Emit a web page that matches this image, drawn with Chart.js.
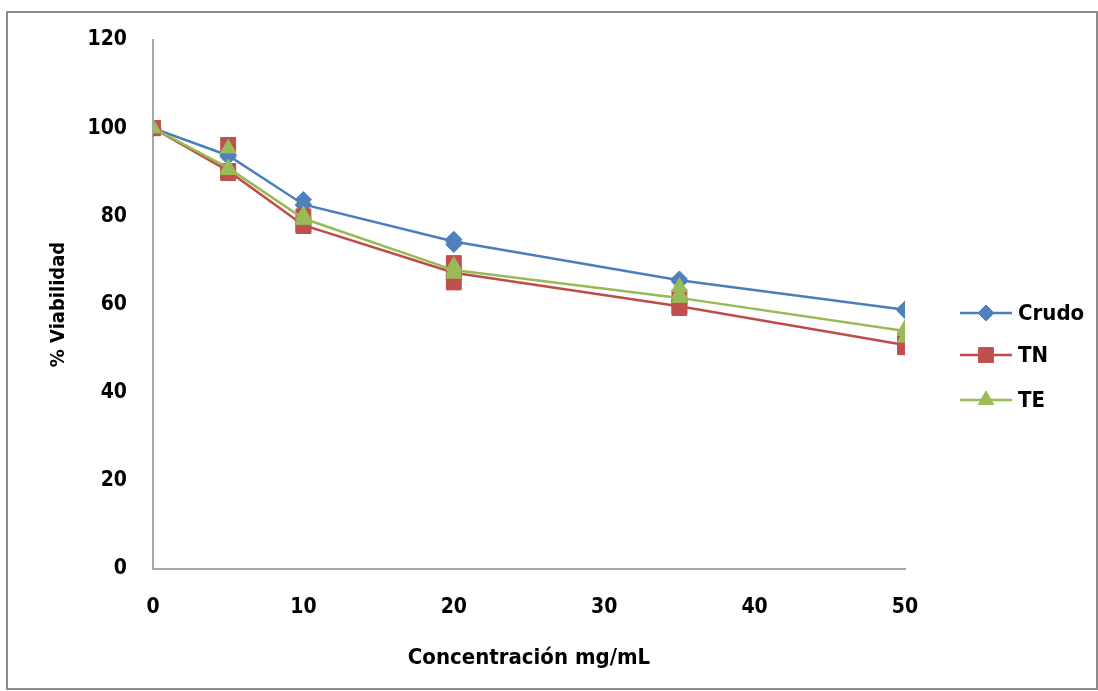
<!DOCTYPE html>
<html>
<head>
<meta charset="utf-8">
<script src="https://cdn.jsdelivr.net/npm/chart.js@4"></script>
<style>
  html, body { margin: 0; padding: 0; background: #fff; }
  #wrap { width: 1098px; height: 691px; position: relative; }
</style>
</head>
<body>
<div id="wrap"><canvas id="myChart" width="1098" height="691"></canvas></div>
<script>
var concentracion = [0, 5, 10, 20, 35, 50];

var crudo = [100, 93.8, 82.7, 74.3, 65.5, 58.8];
var tn    = [100, 90.3, 78.0, 67.2, 59.6, 50.8];
var te    = [100, 91.0, 79.5, 67.8, 61.5, 54.0];

// replicate markers shown around each mean
var crudoHi = [100, 94.0, 83.8, 74.8, 65.8, 59.0];
var crudoLo = [100, 93.5, 82.5, 73.6, 65.2, 58.6];
var tnHi    = [100, 96.2, 80.0, 69.4, 61.7, 52.0];
var tnLo    = [100, 89.8, 77.8, 65.0, 59.2, 50.3];
var teHi    = [100, 95.4, 80.3, 68.8, 64.0, 54.5];
var teLo    = [100, 90.5, 79.2, 67.0, 62.5, 52.5];

var seriesNames = ["Crudo", "TN", "TE"];
var yTicks = [0, 20, 40, 60, 80, 100, 120];
var xTicks = [0, 10, 20, 30, 40, 50];

var FONT = '"DejaVu Sans Condensed", "Liberation Sans Narrow", "Arial Narrow", "Liberation Sans", sans-serif';

function pts(ys) {
    return concentracion.map(function (x, i) { return { x: x, y: ys[i] }; });
}

var styles = [
    { line: "#4a7ebb", mark: "#4f81bd", shape: "rectRot", r: 8, order: 2 },
    { line: "#be4b48", mark: "#c0504d", shape: "rect", r: 10.5, order: 1 },
    { line: "#98b954", mark: "#9bbb59", shape: "triangle", r: 9, order: 0 }
];

function mainSet(i, ys) {
    var s = styles[i];
    return {
        label: seriesNames[i],
        data: pts(ys),
        showLine: true,
        borderColor: s.line,
        borderWidth: 2.5,
        backgroundColor: s.mark,
        pointBackgroundColor: s.mark,
        pointBorderColor: s.mark,
        pointStyle: s.shape,
        pointRadius: s.r,
        pointBorderWidth: 1,
        lineTension: 0,
        fill: false,
        order: s.order
    };
}

function repSet(i, ys) {
    var s = styles[i];
    return {
        label: "_rep" + i,
        data: pts(ys),
        showLine: false,
        pointBackgroundColor: s.mark,
        pointBorderColor: s.mark,
        pointStyle: s.shape,
        pointRadius: s.r,
        pointBorderWidth: 1,
        order: s.order
    };
}

var frame = {
    id: "frame",
    beforeDraw: function (chart) {
        var c = chart.ctx;
        c.save();
        c.fillStyle = "#fff";
        c.fillRect(0, 0, chart.width, chart.height);
        c.strokeStyle = "#8c8c8c";
        c.lineWidth = 2;
        c.strokeRect(7, 12, 1090, 677);
        c.restore();
    },
    afterDraw: function (chart) {
        // legend: line sample with marker, then name
        var c = chart.ctx;
        var ys = [313, 355, 400];
        c.save();
        for (var i = 0; i < 3; i++) {
            var s = styles[i];
            c.strokeStyle = s.line;
            c.lineWidth = 2.5;
            c.beginPath();
            c.moveTo(960, ys[i]);
            c.lineTo(1012, ys[i]);
            c.stroke();
            c.fillStyle = s.mark;
            c.strokeStyle = s.mark;
            c.lineWidth = 1;
            Chart.helpers.drawPoint(c, { pointStyle: s.shape, radius: s.r, borderWidth: 1 }, 986, ys[i]);
            c.fillStyle = "#000";
            c.font = "bold 22px " + FONT;
            c.textBaseline = "middle";
            c.textAlign = "left";
            c.fillText(seriesNames[i], 1018, ys[i] + 1);
        }
        c.restore();
    }
};

var ctx = document.getElementById("myChart");

var chart = new Chart(ctx, {
    type: "scatter",
    data: {
        datasets: [
            mainSet(0, crudo), repSet(0, crudoHi), repSet(0, crudoLo),
            mainSet(1, tn), repSet(1, tnHi), repSet(1, tnLo),
            mainSet(2, te), repSet(2, teHi), repSet(2, teLo)
        ]
    },
    options: {
        responsive: false,
        animation: false,
        layout: { padding: { left: 0, top: 40, right: 193, bottom: 0 } },
        plugins: {
            legend: { display: false },
            tooltip: { enabled: false }
        },
        scales: {
            x: {
                type: "linear",
                min: 0,
                max: 50,
                afterFit: function (scale) { scale.height = 122; },
                afterBuildTicks: function (scale) {
                    scale.ticks = xTicks.map(function (v) { return { value: v }; });
                },
                grid: { display: false, drawTicks: false },
                border: { display: true, color: "#a6a6a6", width: 2 },
                ticks: {
                    padding: 26,
                    color: "#000",
                    font: { family: FONT, size: 21, weight: "bold" }
                },
                title: {
                    display: true,
                    text: "Concentración mg/mL",
                    color: "#000",
                    padding: { top: 0, bottom: 20 },
                    font: { family: FONT, size: 22, weight: "bold" }
                }
            },
            y: {
                min: 0,
                max: 120,
                afterFit: function (scale) { scale.width = 153; },
                afterBuildTicks: function (scale) {
                    scale.ticks = yTicks.map(function (v) { return { value: v }; });
                },
                grid: { display: false, drawTicks: false },
                border: { display: true, color: "#a6a6a6", width: 2 },
                ticks: {
                    padding: 26,
                    color: "#000",
                    font: { family: FONT, size: 21, weight: "bold" }
                },
                title: {
                    display: true,
                    text: "% Viabilidad",
                    color: "#000",
                    padding: { top: 47, bottom: 0 },
                    font: { family: FONT, size: 20, weight: "bold" }
                }
            }
        }
    },
    plugins: [frame]
});
</script>
</body>
</html>
